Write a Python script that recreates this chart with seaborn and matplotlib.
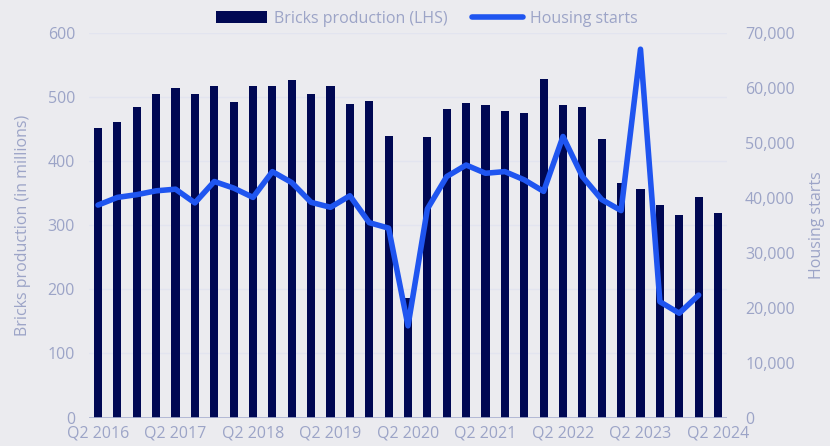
import matplotlib
matplotlib.use("Agg")
import matplotlib.pyplot as plt
import seaborn as sns
import pandas as pd
import numpy as np
from matplotlib.ticker import FuncFormatter
from matplotlib.patches import Patch
from matplotlib.lines import Line2D

quarters = [
    "Q2 2016", "Q3 2016", "Q4 2016", "Q1 2017", "Q2 2017", "Q3 2017", "Q4 2017", "Q1 2018",
    "Q2 2018", "Q3 2018", "Q4 2018", "Q1 2019", "Q2 2019", "Q3 2019", "Q4 2019", "Q1 2020",
    "Q2 2020", "Q3 2020", "Q4 2020", "Q1 2021", "Q2 2021", "Q3 2021", "Q4 2021", "Q1 2022",
    "Q2 2022", "Q3 2022", "Q4 2022", "Q1 2023", "Q2 2023", "Q3 2023", "Q4 2023", "Q1 2024",
    "Q2 2024",
]
bricks = [
    452, 461, 485, 505, 514, 505, 517, 492,
    517, 517, 527, 505, 517, 489, 495, 440,
    186, 438, 482, 491, 488, 479, 476, 529,
    488, 485, 435, 366, 357, 332, 316, 344,
    319,
]
housing = [
    38700, 40100, 40600, 41300, 41600, 39100, 43000, 41800,
    40100, 44800, 42800, 39200, 38300, 40400, 35500, 34500,
    16700, 38000, 43900, 46000, 44500, 44800, 43300, 41200,
    51200, 43900, 39700, 37700, 67100, 21100, 19000, 22300,
]

BG = "#ebebef"
NAVY = "#000853"
BLUE = "#1f55f0"
TXT = "#9ca4c7"
GRID = "#e2e4ef"
FS = 11.5

sns.set_theme(style="white")
plt.rcParams["font.family"] = ["Open Sans", "DejaVu Sans"]

df_b = pd.DataFrame({"quarter": quarters, "bricks": bricks})
df_h = pd.DataFrame({"idx": np.arange(len(housing)), "housing": housing})

fig = plt.figure(figsize=(8.30, 4.46), dpi=100, facecolor=BG)
ax = fig.add_axes([89 / 830, 28.5 / 446, (727 - 89) / 830, 384.2 / 446])
ax.set_facecolor(BG)

sns.barplot(data=df_b, x="quarter", y="bricks", color=NAVY, width=0.42,
            saturation=1, linewidth=0, edgecolor=NAVY, ax=ax, zorder=2)
ax.set_ylim(0, 600)
ax.set_yticks(range(0, 601, 100))
ax.set_xlim(-0.465, 32.465)
ax.set_xticks(range(0, 33, 4))
ax.set_xticklabels([quarters[i] for i in range(0, 33, 4)])
ax.grid(axis="y", color=GRID, linewidth=1, zorder=0)
ax.set_axisbelow(True)
for s in ax.spines.values():
    s.set_visible(False)
ax.axhline(0, color="#a9b0d0", linewidth=1.2, zorder=3)
ax.tick_params(axis="both", colors=TXT, labelsize=FS, length=0)
ax.tick_params(axis="x", pad=6)
ax.tick_params(axis="y", pad=10)
ax.set_xlabel("")
ax.set_ylabel("Bricks production (in millions)", color=TXT, fontsize=FS, labelpad=12)

ax2 = ax.twinx()
sns.lineplot(data=df_h, x="idx", y="housing", color=BLUE, linewidth=4,
             ax=ax2, zorder=4, solid_capstyle="round", solid_joinstyle="round")
ax2.set_ylim(0, 70000)
ax2.set_yticks(range(0, 70001, 10000))
ax2.yaxis.set_major_formatter(FuncFormatter(lambda v, p: f"{int(v):,}"))
ax2.set_xlim(-0.465, 32.465)
for s in ax2.spines.values():
    s.set_visible(False)
ax2.tick_params(axis="y", colors=TXT, labelsize=FS, length=0, pad=13)
ax2.set_xlabel("")
ax2.set_ylabel("Housing starts", color=TXT, fontsize=FS, labelpad=10)
ax2.grid(False)

handles = [Patch(facecolor=NAVY, edgecolor="none"),
           Line2D([0], [0], color=BLUE, linewidth=4, solid_capstyle="round")]
fig.legend(handles, ["Bricks production (LHS)", "Housing starts"],
           loc="center", bbox_to_anchor=(0.514, 0.958), ncol=2, frameon=False,
           fontsize=FS, labelcolor=TXT, handlelength=3.2, handleheight=0.8,
           columnspacing=1.5, handletextpad=0.45)

fig.savefig("out.png", dpi=100, facecolor=BG)
